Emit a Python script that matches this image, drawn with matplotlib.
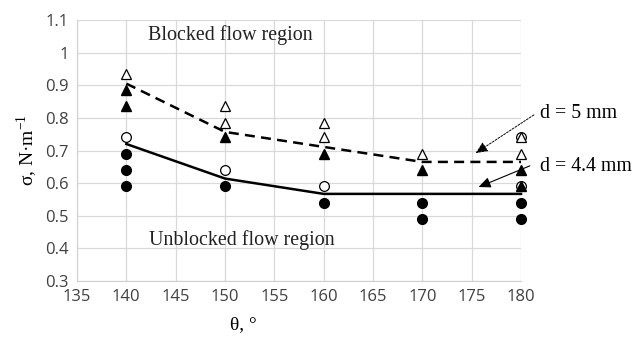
import matplotlib
matplotlib.use("Agg")
import matplotlib.pyplot as plt
from matplotlib.ticker import FuncFormatter

# Data
theta_open_tri = [140, 150, 150, 160, 160, 170, 180, 180]
sigma_open_tri = [0.935, 0.835, 0.785, 0.785, 0.74, 0.69, 0.74, 0.69]
theta_fill_tri = [140, 140, 150, 160, 170, 180, 180]
sigma_fill_tri = [0.885, 0.835, 0.74, 0.69, 0.64, 0.64, 0.59]
theta_open_circ = [140, 150, 160, 180, 180]
sigma_open_circ = [0.74, 0.64, 0.59, 0.74, 0.59]
theta_fill_circ = [140, 140, 140, 150, 160, 170, 170, 180, 180]
sigma_fill_circ = [0.69, 0.64, 0.59, 0.59, 0.54, 0.54, 0.49, 0.54, 0.49]
theta_line = [140, 150, 160, 170, 180]
sigma_d5 = [0.905, 0.757, 0.711, 0.665, 0.665]
sigma_d44 = [0.72, 0.614, 0.567, 0.567, 0.567]
xticks = [135, 140, 145, 150, 155, 160, 165, 170, 175, 180]
yticks = [0.3, 0.4, 0.5, 0.6, 0.7, 0.8, 0.9, 1.0, 1.1]

fig = plt.figure(figsize=(6.37, 3.41), dpi=100)
ax = fig.add_axes([77/637, 1 - 281/341, (521 - 77)/637, (281 - 20)/341])

serif = "Liberation Serif"
tickfont = "Open Sans"

ax.plot(theta_line, sigma_d5, color="black", lw=1.8, ls=(0, (4, 2.5)), zorder=2, clip_on=False)
ax.plot(theta_line, sigma_d44, color="black", lw=1.8, zorder=2, clip_on=False)

ax.plot(theta_open_circ, sigma_open_circ, "o", mfc="white", mec="black", mew=0.9, ms=7, ls="none", zorder=3, clip_on=False)
ax.plot(theta_fill_circ, sigma_fill_circ, "o", color="black", ms=7, ls="none", zorder=3, clip_on=False)
ax.plot(theta_open_tri, sigma_open_tri, "^", mfc="white", mec="black", mew=0.9, ms=6.5, ls="none", zorder=4, clip_on=False)
ax.plot(theta_fill_tri, sigma_fill_tri, "^", color="black", ms=6.5, ls="none", zorder=4, clip_on=False)

ax.set_xlim(135, 180)
ax.set_ylim(0.3, 1.1)
ax.set_xticks(xticks)
ax.set_yticks(yticks)
ax.yaxis.set_major_formatter(FuncFormatter(lambda v, p: f"{v:g}"))
ax.grid(True, color="#d9d9d9", lw=0.9)
ax.set_axisbelow(True)
for s in ["top", "right"]:
    ax.spines[s].set_visible(False)
for s in ["left", "bottom"]:
    ax.spines[s].set_color("#d0d0d0")
ax.tick_params(length=0, labelsize=12, colors="#404040", pad=6)
for lbl in ax.get_xticklabels() + ax.get_yticklabels():
    lbl.set_fontfamily(tickfont)

ax.text(150.5, 1.054, "Blocked flow region", ha="center", va="center", fontsize=14.4, family=serif, color="#222222")
ax.text(151.7, 0.425, "Unblocked flow region", ha="center", va="center", fontsize=14.4, family=serif, color="#222222")

ax.annotate("", xy=(175.4, 0.692), xytext=(181.3, 0.809),
            arrowprops=dict(arrowstyle="-|>,head_length=0.9,head_width=0.4", color="black", lw=0.7,
                            ls=(0, (2, 1.5)), mutation_scale=8, shrinkA=0, shrinkB=0),
            annotation_clip=False)
ax.annotate("", xy=(175.7, 0.588), xytext=(180.9, 0.653),
            arrowprops=dict(arrowstyle="-|>,head_length=0.9,head_width=0.4", color="black", lw=0.8,
                            mutation_scale=8, shrinkA=0, shrinkB=0),
            annotation_clip=False)
ax.text(181.9, 0.812, "d = 5 mm", ha="left", va="center", fontsize=14.3, family=serif, clip_on=False)
ax.text(181.9, 0.652, "d = 4.4 mm", ha="left", va="center", fontsize=14.3, family=serif, clip_on=False)

fig.text(27/637, 1 - 150/341, "σ, N·m$^{\\mathregular{-1}}$", rotation=90, ha="center", va="center",
         fontsize=14, family=serif)
fig.text(243/637, 1 - 325/341, "θ, °", ha="center", va="center", fontsize=14, family=serif)

fig.savefig("out.png", dpi=100)
